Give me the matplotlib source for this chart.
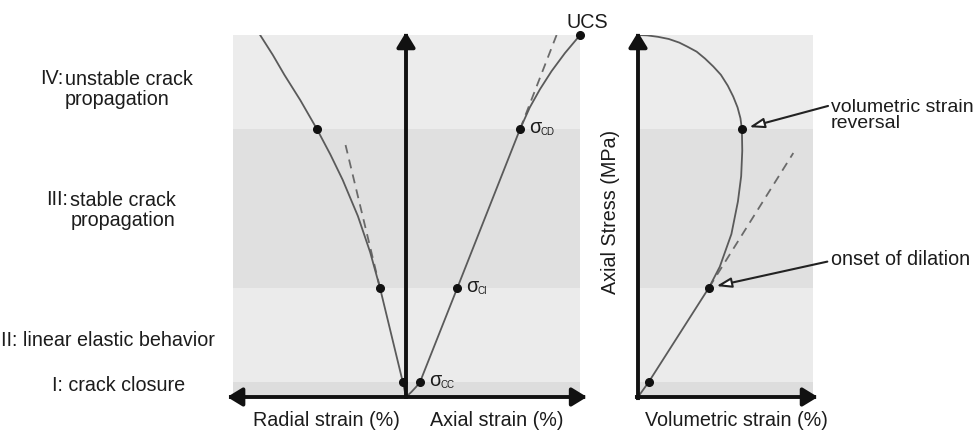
"""
Schematic of the stress-strain stages of rock under uniaxial compression:
axial / radial strain on the left, volumetric strain on the right.

Output:
    out.png
"""

import matplotlib

matplotlib.use("Agg")
import matplotlib.pyplot as plt

plt.rcParams["font.family"] = ["Liberation Sans", "DejaVu Sans"]

W, H, DPI = 974, 430, 100
FONT = 14.2
TEXT = "#1c1c1c"
CURVE = "#5a5a5a"
AXIS = "#111111"

# stage thresholds, axial stress in % of UCS: 0, sigma_cc, sigma_ci, sigma_cd, UCS
STAGE_BOUNDS = [0.0, 4.2, 30.2, 74.0, 100.0]
STAGE_COLORS = ["#dddddd", "#ebebeb", "#e0e0e0", "#ececec"]  # I, II, III, IV

# curves (strain in arbitrary units, stress in % UCS)
RADIAL_STRAIN = [0.0, -0.9, -7.2, -9.9, -13.3, -17.5, -20.9, -24.6, -29.2, -33.6, -36.8, -40.3]
RADIAL_STRESS = [0.0, 4.2, 30.2, 40.0, 50.0, 60.0, 67.0, 74.0, 82.0, 89.0, 94.5, 100.0]

AXIAL_STRAIN = [0.0, 1.5, 2.8, 3.9, 14.2, 31.5, 34.2, 37.0, 40.2, 43.9, 48.1]
AXIAL_STRESS = [0.0, 1.4, 2.8, 4.2, 30.2, 74.0, 80.0, 85.0, 90.0, 95.0, 100.0]

VOL_STRAIN = [0.0, 3.0, 19.6, 22.6, 25.8, 27.6, 28.5, 28.8, 28.7, 28.3, 27.5, 26.3,
              24.8, 22.9, 20.8, 18.5, 16.2, 13.6, 11.4, 8.5, 5.5, 2.5, 0.0]
VOL_STRESS = [0.0, 4.2, 30.2, 36.0, 45.0, 54.0, 61.0, 68.0, 74.0, 77.0, 80.0, 83.0,
              86.0, 89.0, 91.3, 93.5, 95.4, 96.8, 97.9, 98.9, 99.5, 99.9, 100.0]

# marked points (sigma_cc, sigma_ci, sigma_cd; UCS on the axial curve)
MARK_STRESS = [4.2, 30.2, 74.0]
RADIAL_MARKS = [-0.9, -7.2, -24.6]
AXIAL_MARKS = [3.9, 14.2, 31.5]
VOL_MARKS = [3.0, 19.6, 28.7]
UCS_POINT = (48.1, 100.0)
SIGMA_SUBS = ["CC", "CI", "CD"]

# linear extrapolations (x pair, y pair)
RADIAL_TANGENT = ([-7.2, -16.7], [30.2, 69.6])
AXIAL_TANGENT = ([31.5, 41.6], [74.0, 100.0])
VOL_TANGENT = ([19.6, 42.9], [30.2, 67.4])

# numeral, description, x of numeral end, first / last baseline, alignment
STAGE_LABELS = [
    ("IV:", "unstable crack\npropagation", 63, 84, 105, "left"),
    ("III:", "stable crack\npropagation", 68, 205, 226, "right"),
]


def fig_xy(px, py):
    return px / W, 1 - py / H


def axis_arrow(ax, start, end, style="-|>"):
    ax.annotate(
        "", xy=end, xytext=start, annotation_clip=False,
        arrowprops=dict(
            arrowstyle=f"{style},head_length=0.9,head_width=0.55",
            mutation_scale=10, lw=2.8, color=AXIS,
            shrinkA=0, shrinkB=0, capstyle="projecting",
        ),
    )


def bands(ax, x0, x1):
    for lo, hi, color in zip(STAGE_BOUNDS[:-1], STAGE_BOUNDS[1:], STAGE_COLORS):
        ax.fill_between([x0, x1], lo, hi, color=color, lw=0, zorder=0)


def callout(ax, xy, start):
    ax.annotate(
        "", xy=xy, xytext=start, annotation_clip=False,
        arrowprops=dict(
            arrowstyle="-|>,head_length=0.9,head_width=0.3",
            mutation_scale=10, lw=1.5, ec="#222222", fc="white",
            shrinkA=0, shrinkB=5.5,
        ),
    )


def main():
    fig = plt.figure(figsize=(W / DPI, H / DPI), dpi=DPI)

    ax = fig.add_axes([225 / W, 33 / H, 362 / W, 362 / H])
    ax.set_xlim(-50, 50)
    ax.set_ylim(0, 100)
    ax.axis("off")

    bx = fig.add_axes([638 / W, 33 / H, 181 / W, 362 / H])
    bx.set_xlim(0, 50)
    bx.set_ylim(0, 100)
    bx.axis("off")

    bands(ax, -47.8, 48.1)
    bands(bx, 0, 48.3)

    dash = dict(color="#6a6a6a", lw=1.3, ls=(0, (5, 3.5)), zorder=2)
    ax.plot(*RADIAL_TANGENT, **dash)
    ax.plot(*AXIAL_TANGENT, **dash)
    bx.plot(*VOL_TANGENT, **dash)

    line = dict(color=CURVE, lw=1.3, zorder=2, solid_joinstyle="round")
    ax.plot(RADIAL_STRAIN, RADIAL_STRESS, **line)
    ax.plot(AXIAL_STRAIN, AXIAL_STRESS, **line)
    bx.plot(VOL_STRAIN, VOL_STRESS, **line)

    axis_arrow(ax, (-49.4, 0), (50, 0), "<|-|>")
    axis_arrow(ax, (0, 0), (0, 100.8))
    axis_arrow(bx, (-0.3, 0), (49.7, 0))
    axis_arrow(bx, (0, -0.3), (0, 100.8))

    dot = dict(marker="o", ms=5.5, color="#111111", ls="none", zorder=5, clip_on=False)
    ax.plot(RADIAL_MARKS, MARK_STRESS, **dot)
    ax.plot(AXIAL_MARKS, MARK_STRESS, **dot)
    ax.plot(*UCS_POINT, **dot)
    bx.plot(VOL_MARKS, MARK_STRESS, **dot)

    pt = 72 / DPI
    for x, y, sub in zip(AXIAL_MARKS, MARK_STRESS, SIGMA_SUBS):
        ax.annotate("σ", (x, y), xytext=(9 * pt, -4 * pt), textcoords="offset points",
                    fontsize=FONT, color=TEXT, ha="left", va="baseline")
        ax.annotate(sub, (x, y), xytext=(20 * pt, -6 * pt), textcoords="offset points",
                    fontsize=7, color=TEXT, ha="left", va="baseline")
    ax.annotate("UCS", UCS_POINT, xytext=(7 * pt, 7 * pt), textcoords="offset points",
                fontsize=FONT, color=TEXT, ha="center", va="baseline")

    # stage labels (multi-line baseline = last line)
    for num, desc, px, py_first, py_last, align in STAGE_LABELS:
        fig.text(*fig_xy(px, py_first), num, fontsize=FONT, color=TEXT,
                 ha="right", va="baseline")
        fig.text(*fig_xy(px + 2, py_last), desc, fontsize=FONT, color=TEXT, ha="left",
                 va="baseline", multialignment=align, linespacing=1.05)
    fig.text(*fig_xy(1, 346), "II: linear elastic behavior", fontsize=FONT, color=TEXT,
             ha="left", va="baseline")
    fig.text(*fig_xy(52, 391), "I: crack closure", fontsize=FONT, color=TEXT,
             ha="left", va="baseline")

    # axis titles
    fig.text(*fig_xy(253, 426), "Radial strain (%)", fontsize=FONT, color=TEXT, va="baseline")
    fig.text(*fig_xy(430, 426), "Axial strain (%)", fontsize=FONT, color=TEXT, va="baseline")
    fig.text(*fig_xy(645, 426), "Volumetric strain (%)", fontsize=FONT, color=TEXT, va="baseline")
    fig.text(*fig_xy(611, 212), "Axial Stress (MPa)", fontsize=FONT, color=TEXT,
             rotation=90, ha="center", va="center")

    # call-outs on the volumetric curve
    fig.text(*fig_xy(831, 128), "volumetric strain\nreversal", fontsize=14, color=TEXT,
             ha="left", va="baseline", linespacing=0.9)
    fig.text(*fig_xy(831, 265), "onset of dilation", fontsize=FONT, color=TEXT,
             ha="left", va="baseline")
    callout(bx, (VOL_MARKS[2], MARK_STRESS[2]), (52.5, 80.4))
    callout(bx, (VOL_MARKS[1], MARK_STRESS[1]), (52.3, 37.4))

    fig.savefig("out.png", dpi=DPI)
    plt.close(fig)


if __name__ == "__main__":
    main()
